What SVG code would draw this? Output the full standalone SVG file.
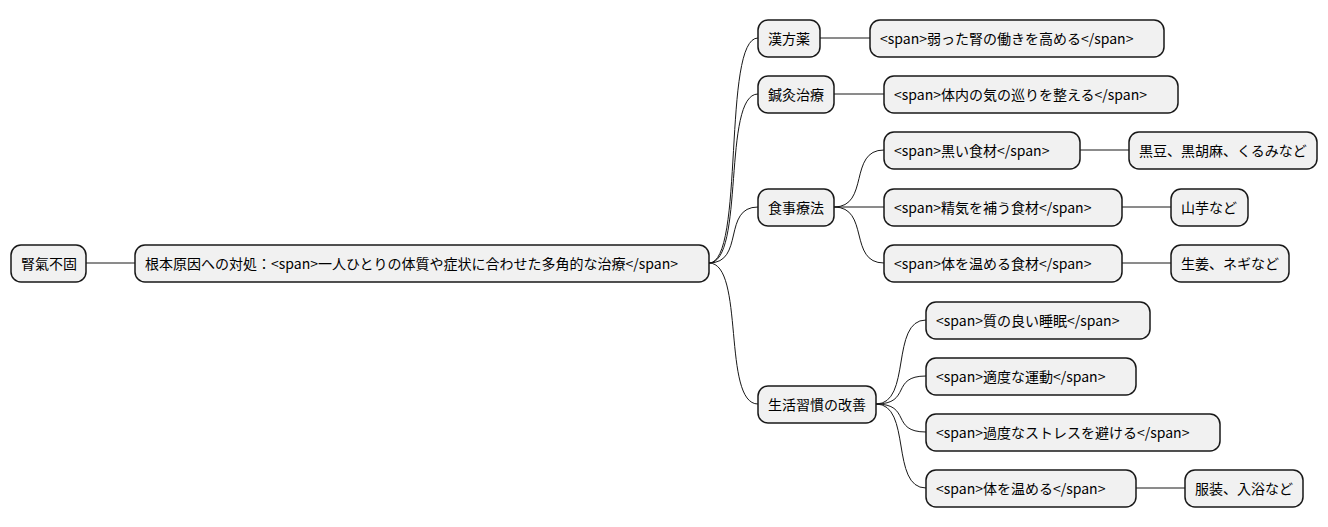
<svg xmlns="http://www.w3.org/2000/svg" width="1328" height="527" viewBox="0 0 1328 527">
<style>
.n rect{fill:#F1F1F1;stroke:#181818;stroke-width:1.5}
.n text{font-family:"Noto Sans CJK JP","Noto Sans",sans-serif;font-size:14px;fill:#000;dominant-baseline:central}
#c path{fill:none;stroke:#181818;stroke-width:1}
</style>
<rect width="1328" height="527" fill="#fff"/>
<g id="c">
<path d="M86,263 H135"/>
<path d="M709,263 C745,263 722,38 758,38"/>
<path d="M709,263 C745,263 722,94 758,94"/>
<path d="M709,263 C745,263 722,207 758,207"/>
<path d="M709,263 C745,263 722,404 758,404"/>
<path d="M820,38 H870"/>
<path d="M834,94 H884"/>
<path d="M834,207 C870,207 848,150 884,150"/>
<path d="M834,207 H884"/>
<path d="M834,207 C870,207 848,263 884,263"/>
<path d="M1080,150 H1129"/>
<path d="M1122,207 H1171"/>
<path d="M1122,263 H1171"/>
<path d="M876,404 C912,404 890,320 926,320"/>
<path d="M876,404 C912,404 890,376 926,376"/>
<path d="M876,404 C912,404 890,432 926,432"/>
<path d="M876,404 C912,404 890,488 926,488"/>
<path d="M1136,488 H1185"/>
</g>
<g id="n1" class="n"><rect x="11" y="245" width="75" height="37" rx="10"/><text x="21" y="263">腎氣不固</text></g>
<g id="n2" class="n"><rect x="135" y="245" width="574" height="37" rx="10"/><text x="145" y="263">根本原因への対処：&lt;span&gt;一人ひとりの体質や症状に合わせた多角的な治療&lt;/span&gt;</text></g>
<g id="n3" class="n"><rect x="758" y="20" width="62" height="37" rx="10"/><text x="768" y="38">漢方薬</text></g>
<g id="n4" class="n"><rect x="870" y="20" width="294" height="37" rx="10"/><text x="880" y="38">&lt;span&gt;弱った腎の働きを高める&lt;/span&gt;</text></g>
<g id="n5" class="n"><rect x="758" y="76" width="76" height="37" rx="10"/><text x="768" y="94">鍼灸治療</text></g>
<g id="n6" class="n"><rect x="884" y="76" width="294" height="37" rx="10"/><text x="894" y="94">&lt;span&gt;体内の気の巡りを整える&lt;/span&gt;</text></g>
<g id="n7" class="n"><rect x="758" y="189" width="76" height="37" rx="10"/><text x="768" y="207">食事療法</text></g>
<g id="n8" class="n"><rect x="884" y="132" width="196" height="37" rx="10"/><text x="894" y="150">&lt;span&gt;黒い食材&lt;/span&gt;</text></g>
<g id="n9" class="n"><rect x="1129" y="132" width="188" height="37" rx="10"/><text x="1139" y="150">黒豆、黒胡麻、くるみなど</text></g>
<g id="n10" class="n"><rect x="884" y="189" width="238" height="37" rx="10"/><text x="894" y="207">&lt;span&gt;精気を補う食材&lt;/span&gt;</text></g>
<g id="n11" class="n"><rect x="1171" y="189" width="77" height="37" rx="10"/><text x="1181" y="207">山芋など</text></g>
<g id="n12" class="n"><rect x="884" y="245" width="238" height="37" rx="10"/><text x="894" y="263">&lt;span&gt;体を温める食材&lt;/span&gt;</text></g>
<g id="n13" class="n"><rect x="1171" y="245" width="118" height="37" rx="10"/><text x="1181" y="263">生姜、ネギなど</text></g>
<g id="n14" class="n"><rect x="758" y="386" width="118" height="37" rx="10"/><text x="768" y="404">生活習慣の改善</text></g>
<g id="n15" class="n"><rect x="926" y="302" width="224" height="37" rx="10"/><text x="936" y="320">&lt;span&gt;質の良い睡眠&lt;/span&gt;</text></g>
<g id="n16" class="n"><rect x="926" y="358" width="210" height="37" rx="10"/><text x="936" y="376">&lt;span&gt;適度な運動&lt;/span&gt;</text></g>
<g id="n17" class="n"><rect x="926" y="414" width="294" height="37" rx="10"/><text x="936" y="432">&lt;span&gt;過度なストレスを避ける&lt;/span&gt;</text></g>
<g id="n18" class="n"><rect x="926" y="470" width="210" height="37" rx="10"/><text x="936" y="488">&lt;span&gt;体を温める&lt;/span&gt;</text></g>
<g id="n19" class="n"><rect x="1185" y="470" width="118" height="37" rx="10"/><text x="1195" y="488">服装、入浴など</text></g>
</svg>
